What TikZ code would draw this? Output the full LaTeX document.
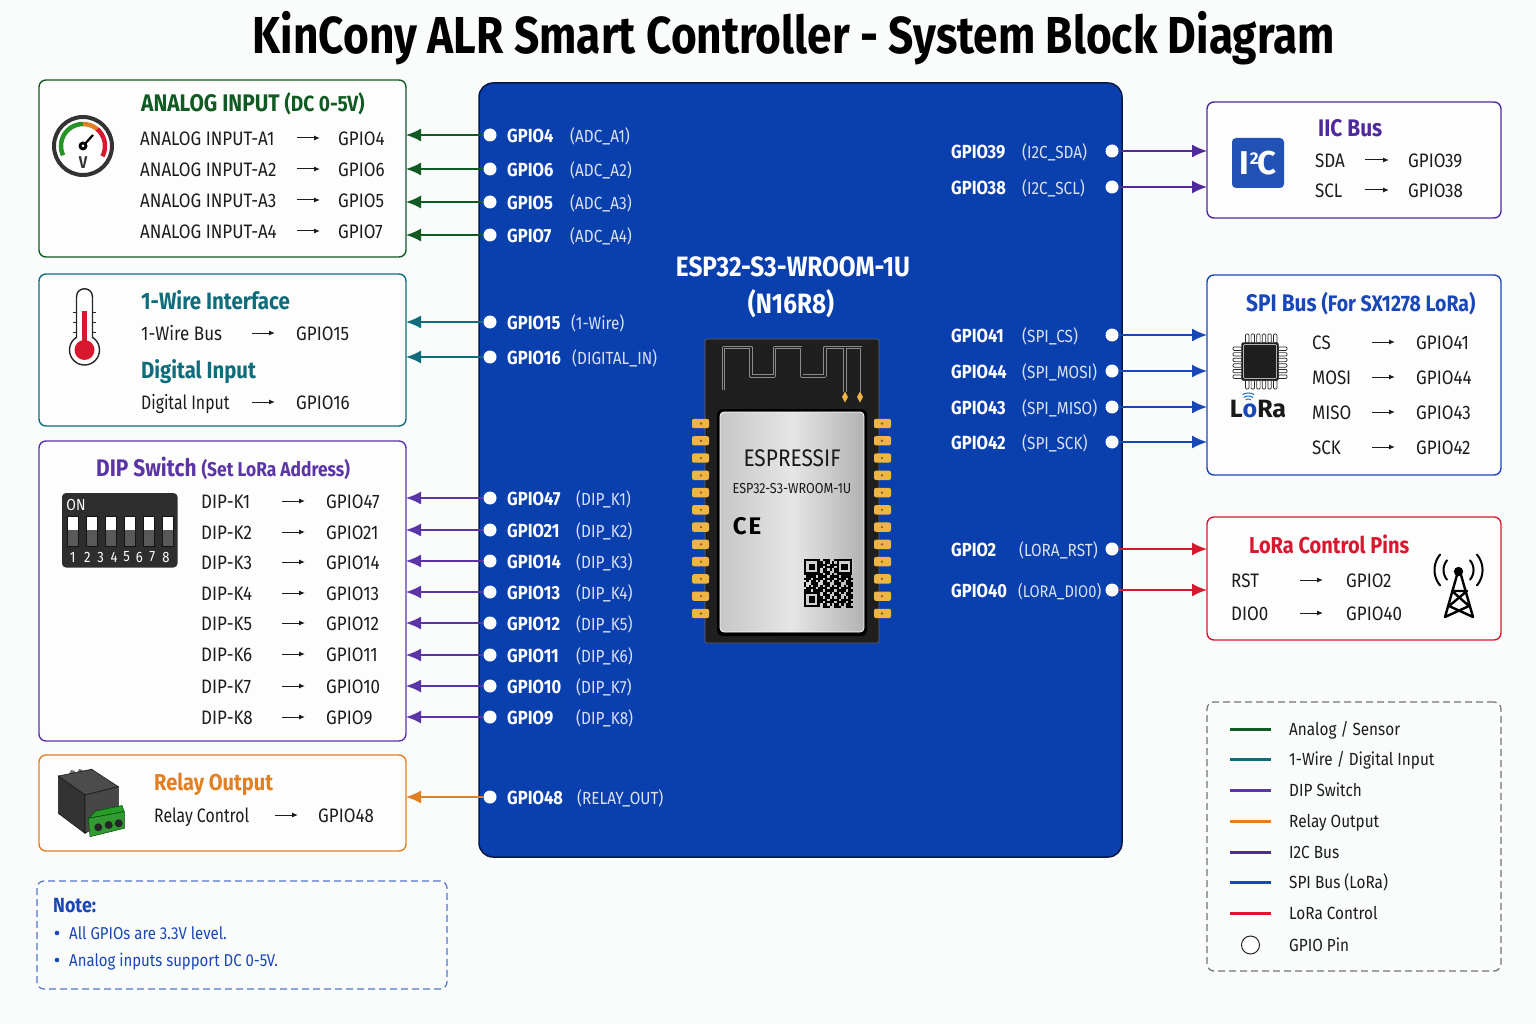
\documentclass[tikz,border=0pt]{standalone}
\usepackage{fontspec}
\usetikzlibrary{arrows.meta,shapes.geometric}
\setmainfont{Fira Sans}
\newfontfamily\cf[FakeStretch=0.87]{Fira Sans}
\newfontfamily\tf[FakeStretch=0.85]{Fira Sans}
\newfontfamily\nf[FakeStretch=0.81]{Fira Sans}
\definecolor{pagebg}{HTML}{FAFBFB}
\definecolor{anag}{HTML}{125A23}
\definecolor{teal1}{HTML}{0F6C7A}
\definecolor{purp}{HTML}{5B34A6}
\definecolor{orng}{HTML}{E27F22}
\definecolor{iicp}{HTML}{4F2A9C}
\definecolor{spib}{HTML}{1A47B8}
\definecolor{lred}{HTML}{D8182E}
\definecolor{mainb}{HTML}{0A3FAE}
\definecolor{txtd}{HTML}{1C1C1C}
\definecolor{gold}{HTML}{EFB544}
\newcommand{\fs}[1]{\fontsize{#1}{#1}\selectfont}
\newcounter{tn}
\newcommand{\tx}[4]{\stepcounter{tn}\node[#3] (t\thetn) at (#1,#2) {#4};}
\newcommand{\conrow}[7]{\tx{#2}{#1}{body}{#3}\tx{#6}{#1}{body}{#7}%
 \stepcounter{tn}\coordinate (as\thetn) at (#4,#1);\coordinate (ae\thetn) at (#5,#1);\draw[rowarrow] (as\thetn) -- (ae\thetn);}
% left pin: name,y,gpio,xparen,paren,colour,box
\newcommand{\lpin}[7]{\node[pindot] (#1) at (490,#2) {};
 \tx{507}{#2}{pinb}{#3}\tx{#4}{#2}{pinr}{#5}
 \draw[conn,#6] (#1) -- (#1 -| #7.east);}
\newcommand{\rpin}[8]{\node[pindot] (#1) at (#8,#2) {};
 \tx{951}{#2}{pinb}{#3}\tx{#4}{#2}{pinr}{#5}
 \draw[conn,#6] (#1) -- (#1 -| #7.west);}
\newcommand{\parc}[6][]{\draw[#1] plot[domain=#5:#6,samples=24,smooth,variable=\t] ({#2+#4*cos(\t)},{#3-#4*sin(\t)});}
\newcommand{\legline}[3]{\coordinate (la#1) at (1230,#2);\coordinate (lb#1) at (1271,#2);\draw[line width=3,#3] (la#1) -- (lb#1);}
\tikzset{
 panel/.style={draw=#1,line width=1.4,rounded corners=7,fill=white!60!pagebg,inner sep=0,outer sep=0,minimum width=367,minimum height=100},
 body/.style={anchor=base west,inner sep=0,text=txtd,font=\cf\fs{19.5},yshift=-7.5},
 legt/.style={anchor=base west,inner sep=0,text=txtd,font=\cf\fs{17.6},yshift=-6.6},
 ttl/.style={anchor=base west,inner sep=0,text=#1,font=\cf\bfseries\fs{24},yshift=-8},
 pinb/.style={anchor=base west,inner sep=0,text=white,font=\cf\bfseries\fs{19},yshift=-7.8},
 pinr/.style={anchor=base west,inner sep=0,text=white!85!mainb,font=\cf\fs{17.6},yshift=-7.2},
 pindot/.style={circle,fill=white,draw=none,inner sep=0,minimum size=13},
 conn/.style={line width=1.5,-{Latex[length=15,width=13]}},
 rowarrow/.style={line width=1,txtd,-{Latex[length=6,width=5]}},
 note/.style={anchor=base west,inner sep=0,text=spib,font=\cf\fs{17.2},yshift=-6},
 pad/.style={fill=gold,draw=none,rounded corners=2},
 antout/.style={black!45,line width=3.4,line join=round},
 antin/.style={black!88,line width=1.6,line join=round},
}
\begin{document}
\begin{tikzpicture}[x=1pt,y=-1pt]
\useasboundingbox (0,0) rectangle (1536,1024);
\fill[pagebg] (0,0) rectangle (1536,1024);
\node[inner sep=0,text=black,font=\tf\bfseries\fs{52}] (title) at (794,38.5) {KinCony ALR Smart Controller - System Block Diagram};

% main board
\node[draw=black!60!mainb,line width=1.5,rounded corners=14,fill=mainb,inner sep=0,minimum width=643,minimum height=774] (mainbox) at (800.5,470) {};

% panels
\node[panel=anag,minimum height=177] (ana) at (222.5,168.5) {};
\node[panel=teal1,minimum height=152] (wire) at (222.5,350) {};
\node[panel=purp,minimum height=300] (dip) at (222.5,591) {};
\node[panel=orng,minimum height=96] (rel) at (222.5,803) {};
\node[panel=iicp,minimum width=294,minimum height=116] (iic) at (1354,160) {};
\node[panel=spib,minimum width=294,minimum height=200] (spi) at (1354,375) {};
\node[panel=lred,minimum width=294,minimum height=123] (lor) at (1354,578.5) {};
\node[draw=spib!75,line width=1.2,dash pattern=on 7pt off 4pt,rounded corners=7,inner sep=0,minimum width=410,minimum height=108] (notebox) at (242,935) {};
\node[draw=black!55,line width=1.2,dash pattern=on 7pt off 4pt,rounded corners=7,inner sep=0,minimum width=294,minimum height=269] (leg) at (1354,836.5) {};

% Analog
\tx{141}{104}{ttl=anag}{ANALOG INPUT \fs{22}(DC 0-5V)}
\conrow{138}{140}{ANALOG INPUT-A1}{297}{320}{338}{GPIO4}
\conrow{169}{140}{ANALOG INPUT-A2}{297}{320}{338}{GPIO6}
\conrow{200}{140}{ANALOG INPUT-A3}{297}{320}{338}{GPIO5}
\conrow{231}{140}{ANALOG INPUT-A4}{297}{320}{338}{GPIO7}
% gauge
\draw[fill=white,draw=black!80,line width=4] (83,146) circle (29);
\parc[line width=4.5,color=green!50!black!85!white]{83}{146}{22}{205}{90}
\parc[line width=4.5,color=orng]{83}{146}{22}{90}{50}
\parc[line width=4.5,color=lred]{83}{146}{22}{50}{-28}
\draw[line width=2.2,black] (83,146) -- (93,135);
\fill[black] (83,146) circle (4.5);
\fill[white] (83,146) circle (1.5);
\tx{83}{163}{inner sep=0,font=\cf\bfseries\fs{17},text=black!80}{V}

% 1-wire
\tx{141}{301}{ttl=teal1}{\fs{23.6}1-Wire Interface}
\conrow{333}{141}{1-Wire Bus}{252}{275}{296}{GPIO15}
\tx{141}{370}{ttl=teal1}{\fs{23.4}Digital Input}
\conrow{402}{141}{\nf Digital Input}{252}{275}{296}{GPIO16}
% thermometer
\draw[fill=white,draw=black!85,line width=1.4] (84.5,350) circle (15);
\fill[white] (77.3,296) rectangle (91.7,345);
\draw[black!85,line width=1.4] (76.5,338) -- (76.5,297) .. controls (76.5,286) and (92.5,286) .. (92.5,297) -- (92.5,338);
\fill[lred] (81.7,311) rectangle (87.3,345);
\fill[lred] (84.5,350) circle (10);
\foreach \yy in {312,322,332}{\draw[black!85,line width=1] (73,\yy) -- (76.5,\yy) (92.5,\yy) -- (96,\yy);}

% DIP
\tx{96}{468}{ttl=purp}{DIP Switch \fs{20}(Set LoRa Address)}
\conrow{501}{201}{DIP-K1}{282}{305}{326}{GPIO47}
\conrow{532}{201}{DIP-K2}{282}{305}{326}{GPIO21}
\conrow{562}{201}{DIP-K3}{282}{305}{326}{GPIO14}
\conrow{593}{201}{DIP-K4}{282}{305}{326}{GPIO13}
\conrow{623}{201}{DIP-K5}{282}{305}{326}{GPIO12}
\conrow{654}{201}{DIP-K6}{282}{305}{326}{GPIO11}
\conrow{686}{201}{DIP-K7}{282}{305}{326}{GPIO10}
\conrow{717}{201}{DIP-K8}{282}{305}{326}{GPIO9}
\fill[black!82,rounded corners=4] (62,493) rectangle (177.5,567.5);
\tx{76}{505}{inner sep=0,font=\cf\fs{16},text=white}{ON}
\foreach \i in {0,...,5}{
 \fill[black!65] ({67.7+18.9*\i},516.7) rectangle ++(10.6,29.6);
 \fill[white] ({67.7+18.9*\i},516.7) rectangle ++(10.6,13);
 \draw[black!92,line width=.5] ({67.7+18.9*\i},516.7) rectangle ++(10.6,29.6);
}
\foreach \xx/\nn in {72.7/1,87.3/2,100.7/3,114/4,126.7/5,139.3/6,152.3/7,166/8}{
 \tx{\xx}{557}{inner sep=0,font=\cf\fs{15},text=white}{\nn}}

% Relay
\tx{154}{782}{ttl=orng}{\fs{23}Relay Output}
\conrow{815}{154}{\nf Relay Control}{275}{298}{318}{GPIO48}
\fill[black!55] (68,777) -- (71,770) -- (75,771) -- (74,777) -- cycle;
\fill[black!55] (76,776) -- (79,769) -- (83,770) -- (82,776) -- cycle;
\filldraw[fill=black!70,draw=black!90,line width=.6] (58.3,776) -- (91.7,769.3) -- (118.3,786.7) -- (85,795) -- cycle;
\filldraw[fill=black!80,draw=black!90,line width=.6] (58.3,776) -- (85,795) -- (85,833.3) -- (58.3,813.3) -- cycle;
\filldraw[fill=black!72,draw=black!90,line width=.6] (85,795) -- (118.3,786.7) -- (118.3,813.3) -- (85,833.3) -- cycle;
\filldraw[fill=green!55!black!85,draw=green!30!black,line width=.5] (88.3,818.3) -- (96,811) -- (122,805.5) -- (124.3,811.7) -- (90,818) -- cycle;
\filldraw[fill=green!50!black!80,draw=green!30!black,line width=.5] (88.3,818.3) -- (124.3,811.7) -- (124.3,828.3) -- (90,836.7) -- cycle;
\foreach \xx/\yy in {98.3/827.3,108.7/825,118.7/823.3}{\fill[black!85] (\xx,\yy) circle (4);}

% IIC
\tx{1318}{129}{ttl=iicp}{IIC Bus}
\conrow{160}{1315}{SDA}{1365}{1389}{1408}{GPIO39}
\conrow{190}{1315}{SCL}{1365}{1389}{1408}{GPIO38}
\fill[mainb!90!white,rounded corners=4] (1232,138) rectangle (1284,188);
\tx{1258}{163}{inner sep=0,font=\fontspec{Fira Sans}\bfseries\fs{33},text=white}{I\kern1pt\raisebox{10pt}{\fs{17}2}\kern-1pt C}

% SPI
\tx{1246}{303}{ttl=spib}{SPI Bus \fs{22.4}(For SX1278 LoRa)}
\conrow{342}{1312}{CS}{1372}{1395}{1416}{GPIO41}
\conrow{377}{1312}{MOSI}{1372}{1395}{1416}{GPIO44}
\conrow{412}{1312}{MISO}{1372}{1395}{1416}{GPIO43}
\conrow{447}{1312}{SCK}{1372}{1395}{1416}{GPIO42}
\foreach \k in {0,...,5}{
 \draw[fill=white,draw=black!85,line width=.7,rounded corners=1] ({1245.5+5.6*\k},334) rectangle ++(3.4,9);
 \draw[fill=white,draw=black!85,line width=.7,rounded corners=1] ({1245.5+5.6*\k},380) rectangle ++(3.4,9);
 \draw[fill=white,draw=black!85,line width=.7,rounded corners=1] (1233,{347+5.6*\k}) rectangle ++(9,3.4);
 \draw[fill=white,draw=black!85,line width=.7,rounded corners=1] (1278,{347+5.6*\k}) rectangle ++(9,3.4);
}
\filldraw[fill=black!88,draw=black!88,rounded corners=2] (1241.5,342.5) rectangle (1278.5,380.5);
\draw[white!70!black,line width=.7,rounded corners=1] (1243.5,344.5) rectangle (1276.5,378.5);
\tx{1258}{409}{inner sep=0,font=\fontspec{Fira Sans}\bfseries\fs{25},text=black!90}{L\textcolor{spib}{o}Ra}
\parc[line width=1,color=spib!80!cyan]{1248.3}{403}{4}{50}{130}
\parc[line width=1,color=spib!80!cyan]{1248.3}{403}{7}{50}{130}
\parc[line width=1,color=spib!80!cyan]{1248.3}{403}{10}{55}{125}

% LoRa
\tx{1249}{545}{ttl=lred}{\fs{23}LoRa Control Pins}
\conrow{580}{1231}{RST}{1300}{1323}{1346}{GPIO2}
\conrow{613}{1231}{DIO0}{1300}{1323}{1346}{GPIO40}
\fill[black] (1458.5,571.5) circle (4.7);
\parc[line width=2,color=black,line cap=round]{1458.5}{570}{15}{-40}{40}
\parc[line width=2,color=black,line cap=round]{1458.5}{570}{24}{-40}{40}
\parc[line width=2,color=black,line cap=round]{1458.5}{570}{15}{140}{220}
\parc[line width=2,color=black,line cap=round]{1458.5}{570}{24}{140}{220}
\draw[line width=2.4,black,line cap=round,line join=round] (1445,617) -- (1457,575) (1473,617) -- (1461,575)
 (1452,591) -- (1467,591) (1452,591) -- (1469,606) (1467,591) -- (1449,606) (1449,606) -- (1473,617) (1469,606) -- (1445,617);

% Note
\tx{53}{905}{note,font=\cf\bfseries\fs{20.5},yshift=-1}{Note:}
\fill[spib] (57,933) circle (2.3);
\tx{69}{933}{note}{All GPIOs are 3.3V level.}
\fill[spib] (57,960) circle (2.3);
\tx{69}{960}{note}{Analog inputs support DC 0-5V.}

% Legend
\legline{1}{729}{anag}\legline{2}{759}{teal1}\legline{3}{790}{purp}\legline{4}{821}{orng}
\legline{5}{852}{iicp}\legline{6}{882}{spib}\legline{7}{913}{lred}
\tx{1289}{729}{legt}{Analog / Sensor}
\tx{1289}{759}{legt}{1-Wire / Digital Input}
\tx{1289}{790}{legt}{DIP Switch}
\tx{1289}{821}{legt}{Relay Output}
\tx{1289}{852}{legt}{I2C Bus}
\tx{1289}{882}{legt}{SPI Bus (LoRa)}
\tx{1289}{913}{legt}{LoRa Control}
\tx{1289}{945}{legt}{GPIO Pin}
\node[circle,draw=black!85,line width=1,fill=white,inner sep=0,minimum size=18] (legpin) at (1250.5,945) {};

% Left pins
\lpin{p4}{135}{GPIO4}{570}{(ADC\_A1)}{anag}{ana}
\lpin{p6}{169}{GPIO6}{570}{(ADC\_A2)}{anag}{ana}
\lpin{p5}{202}{GPIO5}{570}{(ADC\_A3)}{anag}{ana}
\lpin{p7}{235}{GPIO7}{570}{(ADC\_A4)}{anag}{ana}
\lpin{p15}{322}{GPIO15}{571}{(1-Wire)}{teal1}{wire}
\lpin{p16}{357}{GPIO16}{572}{(DIGITAL\_IN)}{teal1}{wire}
\lpin{p47}{498}{GPIO47}{576}{(DIP\_K1)}{purp}{dip}
\lpin{p21}{530}{GPIO21}{576}{(DIP\_K2)}{purp}{dip}
\lpin{p14}{561}{GPIO14}{576}{(DIP\_K3)}{purp}{dip}
\lpin{p13}{592}{GPIO13}{576}{(DIP\_K4)}{purp}{dip}
\lpin{p12}{623}{GPIO12}{576}{(DIP\_K5)}{purp}{dip}
\lpin{p11}{655}{GPIO11}{576}{(DIP\_K6)}{purp}{dip}
\lpin{p10}{686}{GPIO10}{576}{(DIP\_K7)}{purp}{dip}
\lpin{p9}{717}{GPIO9}{576}{(DIP\_K8)}{purp}{dip}
\lpin{p48}{797}{GPIO48}{577}{(RELAY\_OUT)}{orng}{rel}
% Right pins
\rpin{p39}{151}{GPIO39}{1022}{(I2C\_SDA)}{iicp}{iic}{1112}
\rpin{p38}{187}{GPIO38}{1022}{(I2C\_SCL)}{iicp}{iic}{1112}
\rpin{p41}{335}{GPIO41}{1022}{(SPI\_CS)}{spib}{spi}{1112}
\rpin{p44}{371}{GPIO44}{1022}{(SPI\_MOSI)}{spib}{spi}{1112}
\rpin{p43}{407}{GPIO43}{1022}{(SPI\_MISO)}{spib}{spi}{1112}
\rpin{p42}{442}{GPIO42}{1022}{(SPI\_SCK)}{spib}{spi}{1112}
\rpin{p2}{549}{GPIO2}{1019}{(LORA\_RST)}{lred}{lor}{1112}
\rpin{p40}{590}{GPIO40}{1018}{\fs{16.8}(LORA\_DIO0)}{lred}{lor}{1112}

% centre title
\tx{793}{267}{inner sep=0,text=white,font=\cf\bfseries\fs{28}}{ESP32-S3-WROOM-1U}
\tx{791}{304}{inner sep=0,text=white,font=\cf\bfseries\fs{28}}{(N16R8)}

% module
\filldraw[fill=black!88,draw=black!60,line width=.6,rounded corners=2] (705,339) rectangle (879,643);
\foreach \i in {0,...,11}{
 \fill[pad] (692,{418.8+17.27*\i}) rectangle (709,{428.2+17.27*\i});
 \fill[pad] (874,{418.8+17.27*\i}) rectangle (891,{428.2+17.27*\i});
 \fill[black!45!gold] (701,{423.5+17.27*\i}) circle (1.3);
 \fill[black!45!gold] (882,{423.5+17.27*\i}) circle (1.3);
}
% antenna
\draw[antout] (723.3,389.5) -- (723.3,347.3) -- (751,347.3) -- (751,376) -- (774.3,376) -- (774.3,347.3) -- (801.7,347.3) -- (801.7,376) -- (825,376) -- (825,347.3) -- (861.7,347.3) -- (861.7,391.5) (845,347.3) -- (845,391.5);
\draw[antin] (723.3,389.5) -- (723.3,347.3) -- (751,347.3) -- (751,376) -- (774.3,376) -- (774.3,347.3) -- (801.7,347.3) -- (801.7,376) -- (825,376) -- (825,347.3) -- (861.7,347.3) -- (861.7,391.5) (845,347.3) -- (845,391.5);
\fill[gold] (845,391.5) -- (848,397) -- (845,402.5) -- (842,397) -- cycle;
\fill[gold] (860,391.5) -- (863,397) -- (860,402.5) -- (857,397) -- cycle;
% shield
\fill[black,rounded corners=6] (717,409) rectangle (867,636);
\shade[left color=black!22,right color=black!30,middle color=black!10,draw=white,line width=.8,rounded corners=4] (720,412) rectangle (864,632);
\tx{792}{458}{inner sep=0,text=black!90,font=\cf\fs{24}}{ESPRESSIF}
\tx{792}{489}{inner sep=0,text=black!90,font=\cf\fs{14.5}}{ESP32-S3-WROOM-1U}
\tx{747}{526}{inner sep=0,text=black,font=\fontspec{Fira Sans}\bfseries\fs{24}}{C\kern2pt E}
% QR
\begin{scope}[shift={(804,559)}]
\foreach \i in {0,...,20}{\foreach \j in {0,...,20}{
 \pgfmathtruncatemacro\vv{mod(\i*\i*3+\j*\j*5+\i*\j*7+\i+2*\j,5)}
 \ifnum\vv<3 \fill[black] ({\i*2.33},{\j*2.33}) rectangle ++(2.4,2.4);\fi}}
\foreach \ox/\oy in {0/0,32.6/0,0/32.6}{
 \fill[black!18] (\ox,\oy) rectangle ++(16.3,16.3);
 \fill[black] (\ox,\oy) rectangle ++(15.5,15.5);
 \fill[black!18] ({\ox+2.3},{\oy+2.3}) rectangle ++(10.9,10.9);
 \fill[black] ({\ox+4.6},{\oy+4.6}) rectangle ++(6.3,6.3);
}
\end{scope}
\end{tikzpicture}
\end{document}
